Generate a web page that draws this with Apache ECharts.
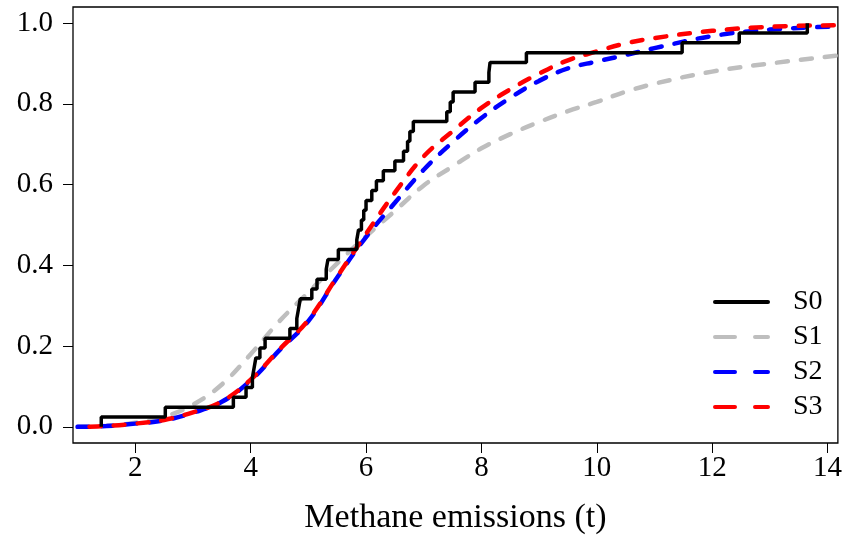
<!DOCTYPE html>
<html>
<head>
<meta charset="utf-8">
<script src="https://cdn.jsdelivr.net/npm/echarts@6/dist/echarts.min.js"></script>
<style>
  html, body { margin: 0; padding: 0; background: #fff; }
  #chart { width: 845px; height: 540px; }
</style>
</head>
<body>
<div id="chart"></div>
<script>
// empirical sample (sorted), ECDF steps of 1/41
const s0X = [
  1.41, 2.52, 3.70, 3.92, 4.03, 4.06, 4.09, 4.16, 4.25, 4.68,
  4.80, 4.83, 4.86, 5.06, 5.15, 5.31, 5.34, 5.52, 5.84, 5.87,
  5.92, 5.96, 6.00, 6.10, 6.18, 6.30, 6.50, 6.65, 6.72, 6.76,
  6.82, 7.40, 7.46, 7.51, 7.89, 8.13, 8.15, 8.78, 11.48, 12.47,
  13.65
];

// fitted CDF curves
const curveX = [1.0, 1.5, 2.0, 2.5, 3.0, 3.5, 4.0, 4.5, 5.0, 5.5, 6.0, 6.5, 7.0, 7.5, 8.0, 8.5, 9.0, 9.5, 10.0, 10.5, 11.0, 12.0, 13.0, 14.2];
const s1Y = [0.000, 0.003, 0.010, 0.025, 0.055, 0.105, 0.180, 0.262, 0.333, 0.405, 0.472, 0.535, 0.598, 0.645, 0.690, 0.725, 0.755, 0.782, 0.805, 0.830, 0.850, 0.880, 0.900, 0.920];
const s2Y = [0.000, 0.002, 0.008, 0.016, 0.035, 0.062, 0.115, 0.190, 0.262, 0.370, 0.470, 0.555, 0.637, 0.705, 0.765, 0.815, 0.857, 0.888, 0.905, 0.921, 0.938, 0.968, 0.984, 0.992];
const s3Y = [0.000, 0.002, 0.008, 0.017, 0.036, 0.063, 0.117, 0.192, 0.265, 0.372, 0.478, 0.580, 0.670, 0.732, 0.790, 0.836, 0.875, 0.908, 0.930, 0.950, 0.963, 0.981, 0.991, 0.995];

const seriesNames = ["S0", "S1", "S2", "S3"];
const seriesColors = ["#000000", "#BEBEBE", "#0000FF", "#FF0000"];

const xTicks = [2, 4, 6, 8, 10, 12, 14];
const yTicks = [0, 0.2, 0.4, 0.6, 0.8, 1.0];

const FONT = "'Liberation Serif', 'DejaVu Serif', serif";

const ecdf = [[s0X[0], 0]].concat(s0X.map((x, i) => [x, (i + 1) / s0X.length]));
const pairs = (ys) => curveX.map((x, i) => [x, ys[i]]);

// legend glyphs: a solid bar and a two-dash bar, rounded ends
const SOLID_ICON = "path://M2,0H55A2,2 0 0 1 55,4H2A2,2 0 0 1 2,0Z";
const DASH_ICON = "path://M2,0H22A2,2 0 0 1 22,4H2A2,2 0 0 1 2,0Z M42,0H55A2,2 0 0 1 55,4H42A2,2 0 0 1 42,0Z";

const chart = echarts.init(document.getElementById("chart"), null, { renderer: "canvas" });

const dashed = (color) => ({
  color: color,
  width: 4.5,
  type: [11, 13],
  cap: "round",
});

chart.setOption({
  animation: false,
  backgroundColor: "#fff",
  grid: {
    left: 73,
    right: 7,
    top: 7,
    bottom: 97,
    show: true,
    borderColor: "#000",
    borderWidth: 1.3,
  },
  legend: {
    orient: "vertical",
    left: 713,
    top: 288,
    padding: 0,
    itemWidth: 57,
    itemHeight: 4,
    itemGap: 7,
    textStyle: {
      fontFamily: FONT,
      fontSize: 28,
      color: "#000",
      padding: [0, 0, 0, 18],
    },
    data: seriesNames.map((name, i) => ({
      name: name,
      icon: i === 0 ? SOLID_ICON : DASH_ICON,
      itemStyle: { color: seriesColors[i] },
    })),
  },
  xAxis: {
    type: "value",
    min: 0.92,
    max: 14.18,
    name: "Methane emissions (t)",
    nameLocation: "middle",
    nameGap: 58,
    nameTextStyle: { fontFamily: FONT, fontSize: 34, color: "#000" },
    axisLine: { show: false, onZero: false },
    axisTick: {
      show: true,
      length: 10,
      customValues: xTicks,
      lineStyle: { color: "#000", width: 1 },
    },
    axisLabel: {
      customValues: xTicks,
      margin: 11,
      fontFamily: FONT,
      fontSize: 29,
      color: "#000",
    },
    splitLine: { show: false },
  },
  yAxis: {
    type: "value",
    min: -0.04,
    max: 1.04,
    axisLine: { show: false, onZero: false },
    axisTick: {
      show: true,
      length: 10,
      customValues: yTicks,
      lineStyle: { color: "#000", width: 1 },
    },
    axisLabel: {
      customValues: yTicks,
      margin: 20,
      fontFamily: FONT,
      fontSize: 29,
      color: "#000",
      formatter: (v) => v.toFixed(1),
    },
    splitLine: { show: false },
  },
  series: [
    {
      name: "S1",
      type: "line",
      data: pairs(s1Y),
      smooth: 0.4,
      symbol: "none",
      lineStyle: dashed(seriesColors[1]),
      itemStyle: { color: seriesColors[1] },
      z: 2,
    },
    {
      name: "S2",
      type: "line",
      data: pairs(s2Y),
      smooth: 0.4,
      symbol: "none",
      lineStyle: dashed(seriesColors[2]),
      itemStyle: { color: seriesColors[2] },
      z: 3,
    },
    {
      name: "S3",
      type: "line",
      data: pairs(s3Y),
      smooth: 0.4,
      symbol: "none",
      lineStyle: Object.assign(dashed(seriesColors[3]), { dashOffset: 12 }),
      itemStyle: { color: seriesColors[3] },
      z: 4,
    },
    {
      name: "S0",
      type: "line",
      data: ecdf,
      step: "end",
      symbol: "none",
      lineStyle: { color: seriesColors[0], width: 3.5 },
      itemStyle: { color: seriesColors[0] },
      z: 5,
    },
  ],
});
</script>
</body>
</html>
